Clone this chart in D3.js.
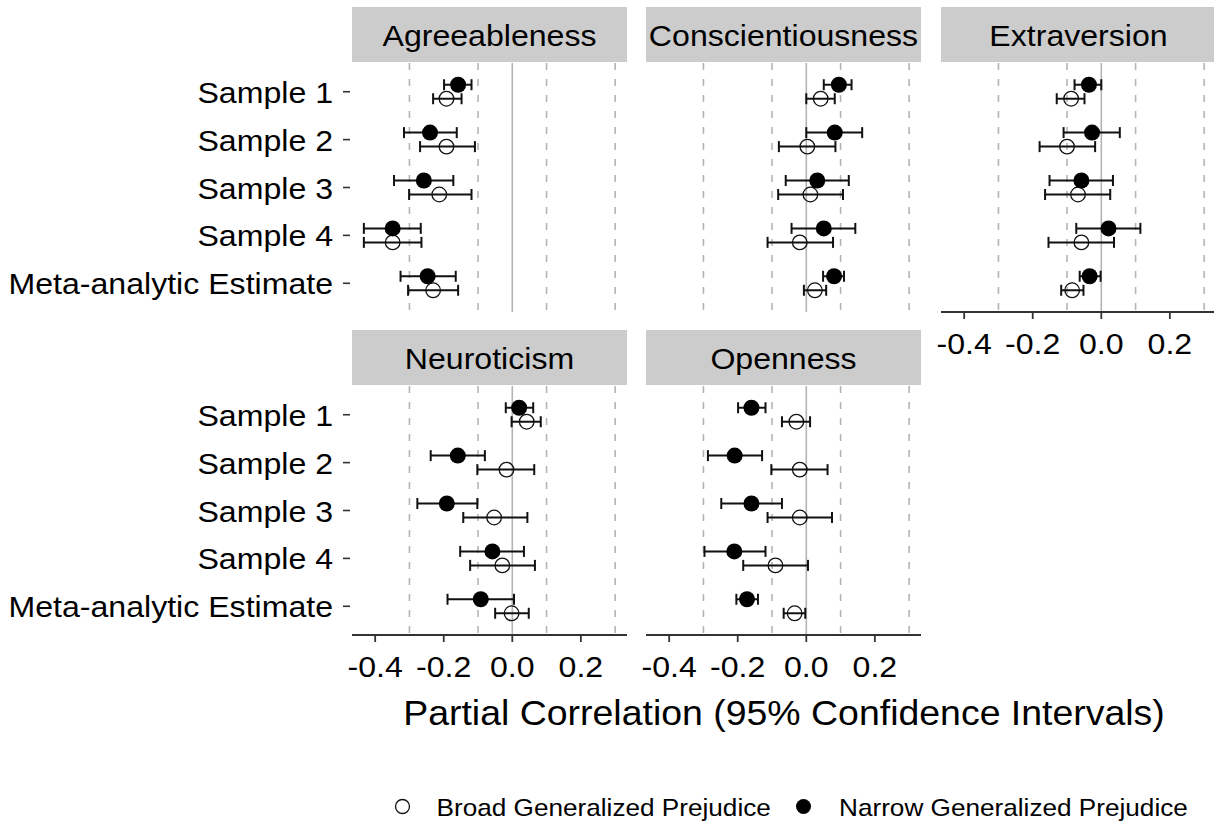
<!DOCTYPE html>
<html><head><meta charset="utf-8">
<script src="https://cdn.jsdelivr.net/npm/d3@7"></script>
<style>
body{margin:0;background:#fff}
svg{display:block}
text{font-family:"Liberation Sans",Arial,Helvetica,sans-serif;fill:#000}
</style>
</head><body>
<svg id="c" width="1214" height="823"></svg>
<script>
// ---------- data ----------
const traits = ["Agreeableness","Conscientiousness","Extraversion","Neuroticism","Openness"];
const samples = ["Sample 1","Sample 2","Sample 3","Sample 4","Meta-analytic Estimate"];
const xTicks = [-0.4,-0.2,0.0,0.2];
const xTickLabels = ["-0.4","-0.2","0.0","0.2"];
const dashedGrid = [-0.3,-0.1,0.1,0.3];
const seriesNames = ["Broad Generalized Prejudice","Narrow Generalized Prejudice"];
const xTitle = "Partial Correlation (95% Confidence Intervals)";

// rows: traits, columns: samples
const narrowEst = [
  [-0.158,-0.240,-0.258,-0.349,-0.247],
  [ 0.095, 0.083, 0.032, 0.051, 0.081],
  [-0.036,-0.027,-0.058, 0.021,-0.034],
  [ 0.020,-0.159,-0.191,-0.058,-0.092],
  [-0.160,-0.209,-0.160,-0.210,-0.173]
];
const narrowLow = [
  [-0.199,-0.316,-0.345,-0.433,-0.326],
  [ 0.051, 0.000,-0.060,-0.043, 0.049],
  [-0.078,-0.110,-0.151,-0.073,-0.063],
  [-0.019,-0.238,-0.277,-0.152,-0.189],
  [-0.199,-0.287,-0.248,-0.297,-0.204]
];
const narrowHigh = [
  [-0.119,-0.162,-0.172,-0.267,-0.165],
  [ 0.132, 0.163, 0.124, 0.143, 0.110],
  [ 0.000, 0.054, 0.034, 0.114,-0.002],
  [ 0.061,-0.080,-0.102, 0.034, 0.005],
  [-0.119,-0.129,-0.071,-0.119,-0.141]
];
const broadEst = [
  [-0.192,-0.192,-0.213,-0.349,-0.231],
  [ 0.042, 0.003, 0.012,-0.019, 0.025],
  [-0.088,-0.100,-0.068,-0.058,-0.085],
  [ 0.042,-0.017,-0.053,-0.029,-0.002],
  [-0.029,-0.019,-0.019,-0.090,-0.034]
];
const broadLow = [
  [-0.231,-0.269,-0.301,-0.433,-0.304],
  [ 0.000,-0.080,-0.082,-0.113,-0.007],
  [-0.130,-0.180,-0.164,-0.154,-0.117],
  [-0.002,-0.102,-0.143,-0.123,-0.050],
  [-0.071,-0.102,-0.113,-0.184,-0.066]
];
const broadHigh = [
  [-0.148,-0.109,-0.119,-0.265,-0.158],
  [ 0.083, 0.085, 0.107, 0.078, 0.058],
  [-0.049,-0.018, 0.026, 0.037,-0.052],
  [ 0.083, 0.064, 0.044, 0.066, 0.048],
  [ 0.011, 0.062, 0.075, 0.005,-0.003]
];

// ---------- layout ----------
const svg = d3.select("#c");
const colLeft = [352, 646, 941];
const panelW = 275;
const stripTop = [7, 330];
const stripH = 55;
const plotTop = [63, 386];
const plotBottom = [312, 635];
const SX = 1.07;
const GRID = "#b4b4b4";
const INK = "#333333";

function label(g, x, y, s, size, anchor, sx) {
  return g.append("text")
    .attr("transform", `translate(${x},${y}) scale(${sx||SX},1)`)
    .attr("text-anchor", anchor)
    .style("font-size", size + "px")
    .text(s);
}

const x = d3.scaleLinear().domain([-0.4676, 0.3346]).range([0, panelW]);

traits.forEach((trait, ti) => {
  const row = ti < 3 ? 0 : 1;
  const col = ti < 3 ? ti : ti - 3;
  const left = colLeft[col];
  const g = svg.append("g").attr("transform", `translate(${left},0)`);
  const y = d3.scalePoint().domain(samples).range([plotTop[row], plotBottom[row]]).padding(0.6);

  // strip
  g.append("rect").attr("x", 0).attr("y", stripTop[row]).attr("width", panelW).attr("height", stripH)
    .attr("fill", "#cccccc");
  label(g, panelW / 2, stripTop[row] + stripH / 2 + 11, trait, 30, "middle");

  // grid
  g.selectAll(".dg").data(dashedGrid).enter().append("line")
    .attr("x1", d => x(d)).attr("x2", d => x(d))
    .attr("y1", plotTop[row]).attr("y2", plotBottom[row])
    .attr("stroke", GRID).attr("stroke-width", 1.6).attr("stroke-dasharray", "7,9");
  g.append("line").attr("x1", x(0)).attr("x2", x(0))
    .attr("y1", plotTop[row]).attr("y2", plotBottom[row])
    .attr("stroke", GRID).attr("stroke-width", 1.6);

  // rows of data
  const rows = samples.map((s, si) => ({
    s,
    n: [narrowLow[ti][si], narrowEst[ti][si], narrowHigh[ti][si]],
    b: [broadLow[ti][si], broadEst[ti][si], broadHigh[ti][si]]
  }));
  const off = 7, cap = 5.5;
  function errbar(d, yy) {
    const eg = g.append("g").attr("stroke", "#111").attr("stroke-width", 2).attr("fill", "none");
    eg.append("line").attr("x1", x(d[0])).attr("x2", x(d[2])).attr("y1", yy).attr("y2", yy);
    eg.append("line").attr("x1", x(d[0])).attr("x2", x(d[0])).attr("y1", yy - cap).attr("y2", yy + cap);
    eg.append("line").attr("x1", x(d[2])).attr("x2", x(d[2])).attr("y1", yy - cap).attr("y2", yy + cap);
  }
  rows.forEach(r => { errbar(r.b, y(r.s) + off); errbar(r.n, y(r.s) - off); });
  rows.forEach(r => {
    g.append("circle").attr("cx", x(r.b[1])).attr("cy", y(r.s) + off).attr("r", 7.3)
      .attr("fill", "none").attr("stroke", "#111").attr("stroke-width", 1.3);
  });
  rows.forEach(r => {
    g.append("circle").attr("cx", x(r.n[1])).attr("cy", y(r.s) - off).attr("r", 8)
      .attr("fill", "#000");
  });

  // y axis (left column only)
  if (col === 0) {
    samples.forEach(s => {
      g.append("line").attr("x1", -9).attr("x2", -2).attr("y1", y(s)).attr("y2", y(s))
        .attr("stroke", INK).attr("stroke-width", 1.6);
      label(g, -19, y(s) + 11, s, 30, "end");
    });
  }

  // x axis (bottom-most panel of each column)
  if (ti >= 2) {
    const yb = plotBottom[row];
    g.append("line").attr("x1", 0).attr("x2", panelW).attr("y1", yb).attr("y2", yb)
      .attr("stroke", INK).attr("stroke-width", 2);
    xTicks.forEach((t, k) => {
      g.append("line").attr("x1", x(t)).attr("x2", x(t)).attr("y1", yb).attr("y2", yb + 7)
        .attr("stroke", INK).attr("stroke-width", 1.8);
      label(g, x(t), yb + 42, xTickLabels[k], 30, "middle");
    });
  }
});

// x title
label(svg, 784, 725, xTitle, 35, "middle");

// legend
const lg = svg.append("g");
lg.append("circle").attr("cx", 402.5).attr("cy", 806.5).attr("r", 7)
  .attr("fill", "none").attr("stroke", "#111").attr("stroke-width", 1.3);
label(lg, 436.5, 815.5, seriesNames[0], 24, "start", 1.09);
lg.append("circle").attr("cx", 803.5).attr("cy", 806.5).attr("r", 7.5).attr("fill", "#000");
label(lg, 839, 815.5, seriesNames[1], 24, "start", 1.09);
</script>
</body></html>
